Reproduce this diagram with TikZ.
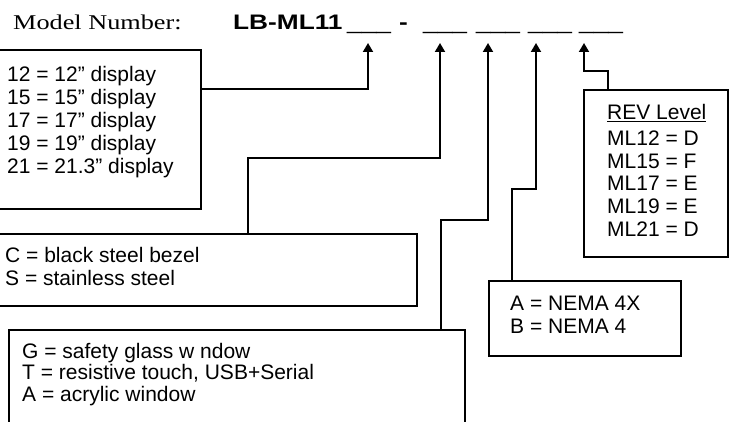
\documentclass[tikz,border=0pt]{standalone}
\usepackage{fontspec}
\setmainfont{Liberation Sans}
\newfontfamily\titleserif[FakeStretch=1.25]{Liberation Serif}
\newfontfamily\titlesans[FakeStretch=1.25]{Liberation Sans}
\usetikzlibrary{arrows.meta}
\tikzset{
  box/.style={draw, line width=1.8pt, inner sep=0pt, outer sep=0pt, anchor=north west},
  lbl/.style={font=\fontsize{21}{23}\selectfont, align=left, inner sep=0pt, anchor=base west},
  ttl/.style={font=\fontsize{21}{23}\selectfont, inner sep=0pt, anchor=base west},
  conn/.style={line width=1.8pt, -{Triangle[width=10pt,length=9pt]}}
}
\begin{document}
\begin{tikzpicture}[x=1pt, y=-1pt]
  \useasboundingbox (0,0) rectangle (734,422);
  % model number line
  \node[ttl] (model) at (13,30) {\titleserif Model Number:};
  \node[ttl] (code) at (233,30) {\titlesans\bfseries LB-ML11};
  \node[ttl] (p1) at (347,30) {\titlesans\_\_\_};
  \node[ttl] (dash) at (399,30) {\titlesans\bfseries -};
  \node[ttl] (p2) at (423,30) {\titlesans\_\_\_};
  \node[ttl] (p3) at (476,30) {\titlesans\_\_\_};
  \node[ttl] (p4) at (528,30) {\titlesans\_\_\_};
  \node[ttl] (p5) at (579,30) {\titlesans\_\_\_};
  % arrow tips under the blanks
  \coordinate (tip1) at (368,43);
  \coordinate (tip2) at (440,43);
  \coordinate (tip3) at (488,43);
  \coordinate (tip4) at (536,43);
  \coordinate (tip5) at (584,43);
  % option boxes
  \node[box, minimum width=203pt, minimum height=159pt] (size) at (-2,50) {};
  \node[box, minimum width=419pt, minimum height=72pt] (bezel) at (-2,234) {};
  \node[box, minimum width=456pt, minimum height=100pt] (window) at (9,330) {};
  \node[box, minimum width=192pt, minimum height=75pt] (nema) at (489,281) {};
  \node[box, minimum width=144pt, minimum height=167pt] (rev) at (584,90) {};
  % box texts (placed at the baseline of their last line)
  \node[lbl] (sizetxt) at (7,174) {12 = 12” display\\15 = 15” display\\17 = 17” display\\19 = 19” display\\21 = 21.3” display};
  \node[lbl] (bezeltxt) at (5,286) {C = black steel bezel\\S = stainless steel};
  \node[lbl, font=\fontsize{21}{21.5}\selectfont] (windowtxt) at (22,401) {G = safety glass w ndow\\T = resistive touch, USB+Serial\\A = acrylic window};
  \node[lbl] (nematxt) at (510,333) {A = NEMA 4X\\B = NEMA 4};
  \node[lbl] (revtxt) at (607,237) {\underline{REV Level}\\[2pt]ML12 = D\\ML15 = F\\ML17 = E\\ML19 = E\\ML21 = D};
  % connectors
  \draw[conn] ([yshift=-39pt]size.north east) -| (tip1);
  \draw[conn] ([xshift=250pt]bezel.north west) -- ++(0,-76) -| (tip2);
  \draw[conn] ([xshift=432pt]window.north west) -- ++(0,-110) -| (tip3);
  \draw[conn] ([xshift=23pt]nema.north west) -- ++(0,-92) -| (tip4);
  \draw[conn] ([xshift=24pt]rev.north west) -- ++(0,-19) -| (tip5);
\end{tikzpicture}
\end{document}
